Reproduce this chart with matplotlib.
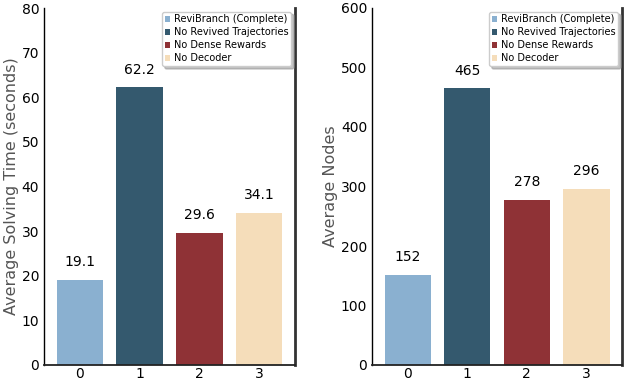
import matplotlib
matplotlib.use("Agg")
import matplotlib.pyplot as plt
from matplotlib.patches import Patch

categories = ["0", "1", "2", "3"]
series_names = ["ReviBranch (Complete)", "No Revived Trajectories", "No Dense Rewards", "No Decoder"]
solving_time = [19.1, 62.2, 29.6, 34.1]
avg_nodes = [152, 465, 278, 296]
colors = ["#8AB0D0", "#34596E", "#8F3236", "#F5DDBA"]

fig = plt.figure(figsize=(6.24, 3.8), dpi=100)
ax1 = fig.add_axes([44/624, 15/380, 251/624, 357/380])
ax2 = fig.add_axes([372/624, 15/380, 250/624, 357/380])

def draw(ax, vals, ylim, ylabel, fmt):
    x = list(range(len(categories)))
    ax.bar(x, vals, width=0.78, color=colors)
    ax.set_xlim(-0.6, 3.6)
    ax.set_ylim(*ylim)
    ax.set_xticks(x)
    ax.set_xticklabels(categories, fontsize=10)
    ax.tick_params(axis="both", length=0, labelsize=10)
    ax.tick_params(axis="x", pad=1.5)
    ax.set_ylabel(ylabel, fontsize=11.5, color="#555555", labelpad=2)
    ax.spines["top"].set_visible(False)
    ax.spines["right"].set_linewidth(2)
    ax.spines["right"].set_color("#333333")
    ax.spines["bottom"].set_linewidth(1.3)
    ax.spines["bottom"].set_color("#222222")
    ax.spines["left"].set_linewidth(1.0)
    off = (ylim[1] - ylim[0]) * 0.03
    for xi, v in zip(x, vals):
        ax.text(xi, v + off, fmt(v), ha="center", va="bottom", fontsize=10)
    handles = [Patch(facecolor=c, edgecolor="none") for c in colors]
    leg = ax.legend(handles, series_names, loc="upper right", fontsize=7,
              handlelength=0.55, handleheight=0.55, handletextpad=0.35,
              labelspacing=0.3, borderpad=0.3, borderaxespad=0.0,
              fancybox=True, shadow={"color": "#999999", "alpha": 0.6},
              framealpha=1, edgecolor="#cccccc",
              bbox_to_anchor=(0.985, 0.99))

draw(ax1, solving_time, (0, 80), "Average Solving Time (seconds)", lambda v: f"{v:.1f}")
draw(ax2, avg_nodes, (0, 600), "Average Nodes", lambda v: f"{v:d}")

fig.savefig("out.png", dpi=100)
